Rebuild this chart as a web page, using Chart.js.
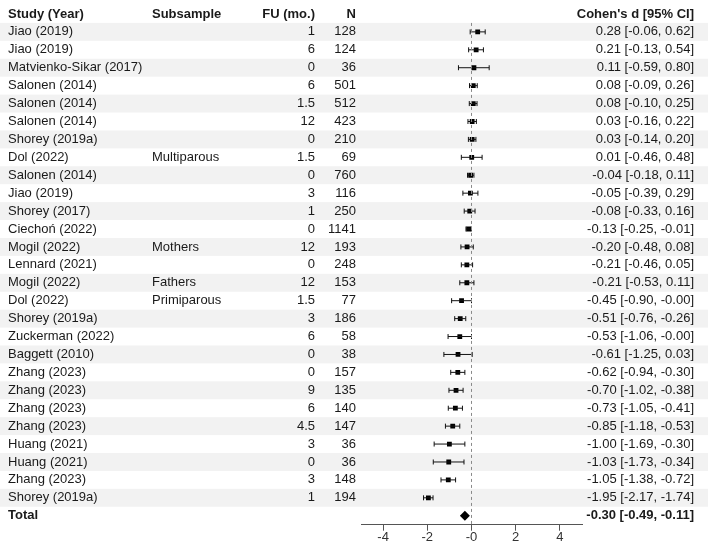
<!DOCTYPE html>
<html>
<head>
<meta charset="utf-8">
<script src="https://cdn.jsdelivr.net/npm/chart.js@4/dist/chart.umd.min.js"></script>
<style>
  html, body { margin: 0; padding: 0; background: #fff; }
  #wrap { width: 708px; height: 545px; }
</style>
</head>
<body>
<div id="wrap"><canvas id="forest"></canvas></div>
<script>
// Study rows, top to bottom
const studies = [
  "Jiao (2019)", "Jiao (2019)", "Matvienko-Sikar (2017)", "Salonen (2014)", "Salonen (2014)",
  "Salonen (2014)", "Shorey (2019a)", "Dol (2022)", "Salonen (2014)", "Jiao (2019)",
  "Shorey (2017)", "Ciechoń (2022)", "Mogil (2022)", "Lennard (2021)", "Mogil (2022)",
  "Dol (2022)", "Shorey (2019a)", "Zuckerman (2022)", "Baggett (2010)", "Zhang (2023)",
  "Zhang (2023)", "Zhang (2023)", "Zhang (2023)", "Huang (2021)", "Huang (2021)",
  "Zhang (2023)", "Shorey (2019a)"
];
const subsamples = [
  "", "", "", "", "", "", "", "Multiparous", "", "", "", "", "Mothers", "", "Fathers",
  "Primiparous", "", "", "", "", "", "", "", "", "", "", ""
];
const followUp = ["1", "6", "0", "6", "1.5", "12", "0", "1.5", "0", "3", "1", "0", "12", "0", "12",
  "1.5", "3", "6", "0", "0", "9", "6", "4.5", "3", "0", "3", "1"];
const sampleN = [128, 124, 36, 501, 512, 423, 210, 69, 760, 116, 250, 1141, 193, 248, 153,
  77, 186, 58, 38, 157, 135, 140, 147, 36, 36, 148, 194];
const cohensD = [0.28, 0.21, 0.11, 0.08, 0.08, 0.03, 0.03, 0.01, -0.04, -0.05, -0.08, -0.13, -0.20, -0.21, -0.21,
  -0.45, -0.51, -0.53, -0.61, -0.62, -0.70, -0.73, -0.85, -1.00, -1.03, -1.05, -1.95];
const ciLow = [-0.06, -0.13, -0.59, -0.09, -0.10, -0.16, -0.14, -0.46, -0.18, -0.39, -0.33, -0.25, -0.48, -0.46, -0.53,
  -0.90, -0.76, -1.06, -1.25, -0.94, -1.02, -1.05, -1.18, -1.69, -1.73, -1.38, -2.17];
const ciHigh = [0.62, 0.54, 0.80, 0.26, 0.25, 0.22, 0.20, 0.48, 0.11, 0.29, 0.16, -0.01, 0.08, 0.05, 0.11,
  -0.00, -0.26, -0.00, 0.03, -0.30, -0.38, -0.41, -0.53, -0.30, -0.34, -0.72, -1.74];
const total = { d: -0.30, low: -0.49, high: -0.11 };
const xTicks = [-4, -2, 0, 2, 4];
const xTickLabels = ["-4", "-2", "-0", "2", "4"];
const headers = ["Study (Year)", "Subsample", "FU (mo.)", "N", "Cohen's d [95% CI]"];

const fmt = v => (Math.abs(v) < 0.005 && v <= 0 ? "-0.00" : v.toFixed(2));
const ciText = (d, lo, hi) => fmt(d) + " [" + fmt(lo) + ", " + fmt(hi) + "]";
const totalRow = studies.length;

// whiskers as one broken line
const whiskers = [];
const caps = [];
studies.forEach((s, i) => {
  whiskers.push({ x: ciLow[i], y: i }, { x: ciHigh[i], y: i }, { x: null, y: null });
  caps.push({ x: ciLow[i], y: i }, { x: ciHigh[i], y: i });
});

const FONT = "'Liberation Sans', Arial, sans-serif";
const TEXT = '#1a1a1a';

const tablePlugin = {
  id: 'table',
  beforeDatasetsDraw(chart) {
    const { ctx, scales: { y } } = chart;
    const h = y.getPixelForValue(1) - y.getPixelForValue(0);
    ctx.save();
    ctx.fillStyle = '#f2f2f2';
    for (let i = 0; i < studies.length; i += 2) {
      const cy = y.getPixelForValue(i);
      ctx.fillRect(0, cy - h / 2, chart.width, h);
    }
    ctx.restore();
  },
  afterDatasetsDraw(chart) {
    const { ctx, scales: { y } } = chart;
    ctx.save();
    ctx.textBaseline = 'middle';
    ctx.fillStyle = TEXT;
    const put = (txt, x, row, align, bold) => {
      ctx.font = (bold ? 'bold ' : '') + '13px ' + FONT;
      ctx.textAlign = align;
      ctx.fillText(txt, x, y.getPixelForValue(row));
    };
    put(headers[0], 8, -1, 'left', true);
    put(headers[1], 152, -1, 'left', true);
    put(headers[2], 315, -1, 'right', true);
    put(headers[3], 356, -1, 'right', true);
    put(headers[4], 694, -1, 'right', true);
    studies.forEach((s, i) => {
      put(s, 8, i, 'left');
      put(subsamples[i], 152, i, 'left');
      put(followUp[i], 315, i, 'right');
      put(String(sampleN[i]), 356, i, 'right');
      put(ciText(cohensD[i], ciLow[i], ciHigh[i]), 694, i, 'right');
    });
    put("Total", 8, totalRow, 'left', true);
    put(ciText(total.d, total.low, total.high), 694, totalRow, 'right', true);
    ctx.restore();
  }
};

new Chart(document.getElementById('forest'), {
  type: 'scatter',
  data: {
    datasets: [
      {
        type: 'line',
        data: [{ x: 0, y: -0.5 }, { x: 0, y: 27.5 }],
        borderColor: '#8a8a8a',
        borderWidth: 1,
        borderDash: [3, 3],
        pointRadius: 0
      },
      {
        type: 'line',
        data: whiskers,
        borderColor: '#111',
        borderWidth: 1,
        pointRadius: 0,
        spanGaps: false
      },
      {
        data: caps,
        pointStyle: 'line',
        rotation: 90,
        pointRadius: 2.5,
        borderColor: '#111',
        borderWidth: 1
      },
      {
        data: cohensD.map((d, i) => ({ x: d, y: i })),
        pointStyle: 'rect',
        pointRadius: 3.4,
        backgroundColor: '#000',
        borderColor: '#000',
        borderWidth: 0
      },
      {
        data: [{ x: total.d, y: totalRow }],
        pointStyle: 'rectRot',
        pointRadius: 5,
        backgroundColor: '#000',
        borderColor: '#000',
        borderWidth: 0
      }
    ]
  },
  options: {
    responsive: true,
    maintainAspectRatio: false,
    animation: false,
    layout: { padding: { left: 361, right: 126, top: 0, bottom: 0 } },
    plugins: { legend: { display: false }, tooltip: { enabled: false } },
    scales: {
      x: {
        type: 'linear',
        min: -5,
        max: 5,
        afterBuildTicks: axis => { axis.ticks = xTicks.map(v => ({ value: v })); },
        ticks: {
          callback: v => xTickLabels[xTicks.indexOf(v)],
          color: '#333',
          font: { family: FONT, size: 13, lineHeight: 1.1 },
          padding: 0,
          maxRotation: 0
        },
        grid: { drawOnChartArea: false, drawTicks: true, tickLength: 6, color: '#555' },
        border: { display: true, color: '#555', width: 1 }
      },
      y: {
        type: 'linear',
        display: false,
        reverse: true,
        min: -1.5,
        max: 27.5
      }
    }
  },
  plugins: [tablePlugin]
});
</script>
</body>
</html>
